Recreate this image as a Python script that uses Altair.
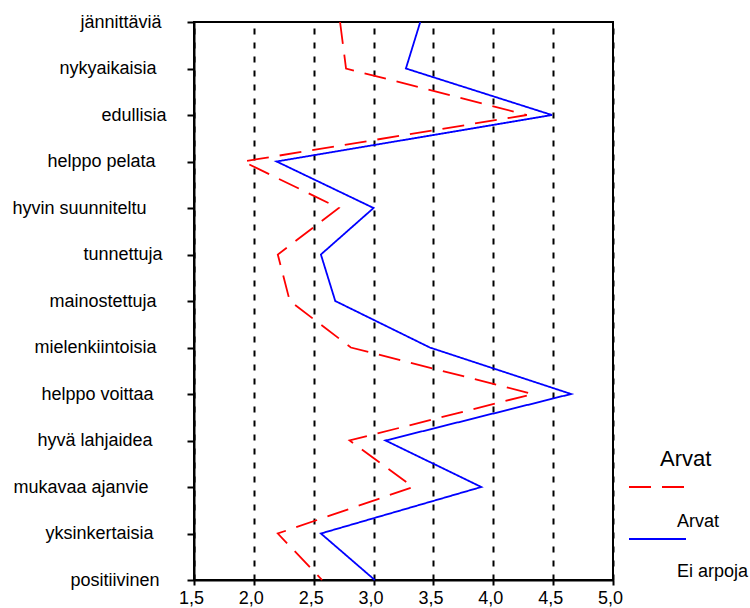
import altair as alt
import pandas as pd

categories = ["jännittäviä", "nykyaikaisia", "edullisia", "helppo pelata",
              "hyvin suunniteltu", "tunnettuja", "mainostettuja", "mielenkiintoisia",
              "helppo voittaa", "hyvä lahjaidea", "mukavaa ajanvie", "yksinkertaisia",
              "positiivinen"]
arvat = [2.72, 2.77, 4.28, 1.91, 2.71, 2.20, 2.30, 2.81, 4.33, 2.80, 3.33, 2.20, 2.57]
ei_arpoja = [3.39, 3.27, 4.49, 2.19, 3.00, 2.56, 2.68, 3.47, 4.65, 3.10, 3.90, 2.56, 3.01]
series_names = ["Arvat", "Ei arpoja"]
legend_title = "Arvat"
x_ticks = [1.5, 2.0, 2.5, 3.0, 3.5, 4.0, 4.5, 5.0]

# style: per-label padding (reference labels end at varying distances)
label_pad = {"jännittäviä": 26, "nykyaikaisia": 31, "edullisia": 21, "helppo pelata": 32,
             "hyvin suunniteltu": 41, "tunnettuja": 25, "mainostettuja": 31,
             "mielenkiintoisia": 31, "helppo voittaa": 34, "hyvä lahjaidea": 35,
             "mukavaa ajanvie": 39, "yksinkertaisia": 34, "positiivinen": 28}

rows = []
for i, c in enumerate(categories):
    rows.append({"category": c, "value": arvat[i], "series": series_names[0], "idx": i})
    rows.append({"category": c, "value": ei_arpoja[i], "series": series_names[1], "idx": i})
df = pd.DataFrame(rows)

FONT = "Liberation Sans"
color_scale = alt.Scale(domain=series_names, range=["#ff0000", "#0000ff"])
dash_scale = alt.Scale(domain=series_names, range=[[22, 11], [1, 0]])

pad_cond = [{"test": "datum.value === '%s'" % c, "value": p} for c, p in label_pad.items()]

lines = alt.Chart(df).mark_line(strokeWidth=1.8).encode(
    x=alt.X("value:Q",
            scale=alt.Scale(domain=[1.5, 5.0], nice=False, zero=False),
            axis=alt.Axis(values=x_ticks, title=None,
                          labelExpr="replace(format(datum.value, '.1f'), '.', ',')",
                          tickSize=5, tickWidth=2, tickColor="black",
                          domainColor="black", domainWidth=2,
                          labelPadding=4, labelOffset=-3, labelFlush=False,
                          labelOverlap=False, labelBound=False,
                          grid=True, gridColor="black", gridWidth=2, gridDash=[6, 8],
                          labelFont=FONT, labelFontSize=18, labelColor="black")),
    y=alt.Y("category:N", sort=categories,
            scale=alt.Scale(type="point", padding=0),
            axis=alt.Axis(title=None, tickSize=7, tickWidth=2, tickColor="black",
                          domainColor="black", domainWidth=2, grid=False,
                          labelPadding={"condition": pad_cond, "value": 30},
                          labelFont=FONT, labelFontSize=18, labelColor="black",
                          labelBaseline="middle")),
    color=alt.Color("series:N", scale=color_scale, legend=None),
    strokeDash=alt.StrokeDash("series:N", scale=dash_scale, legend=None),
    order=alt.Order("idx:Q"),
)

# manual legend (labels below the line swatches, as in the reference)
title_mark = alt.Chart(pd.DataFrame({"t": [legend_title]})).mark_text(
    align="left", baseline="alphabetic", font=FONT, fontSize=22, color="black"
).encode(x=alt.value(466), y=alt.value(444), text="t:N")

swatch_y = [465, 517]
label_y = [505, 555]
legend_layers = []
for i, s in enumerate(series_names):
    d = pd.DataFrame({"series": [s]})
    legend_layers.append(
        alt.Chart(d).mark_rule(strokeWidth=2).encode(
            x=alt.value(435), x2=alt.value(492), y=alt.value(swatch_y[i]),
            color=alt.Color("series:N", scale=color_scale, legend=None),
            strokeDash=alt.StrokeDash("series:N", scale=dash_scale, legend=None))
    )
    legend_layers.append(
        alt.Chart(d).mark_text(align="left", baseline="alphabetic", font=FONT,
                               fontSize=18, color="black").encode(
            x=alt.value(483), y=alt.value(label_y[i]), text="series:N")
    )

chart = alt.layer(lines, title_mark, *legend_layers).properties(
    width=419, height=558,
    autosize=alt.AutoSizeParams(type="none"),
    padding={"left": 194, "top": 22, "right": 137, "bottom": 28},
    background="white",
).configure_view(stroke="black", strokeWidth=2)

chart.save("out.html", embed_options={"renderer": "svg", "actions": False})
